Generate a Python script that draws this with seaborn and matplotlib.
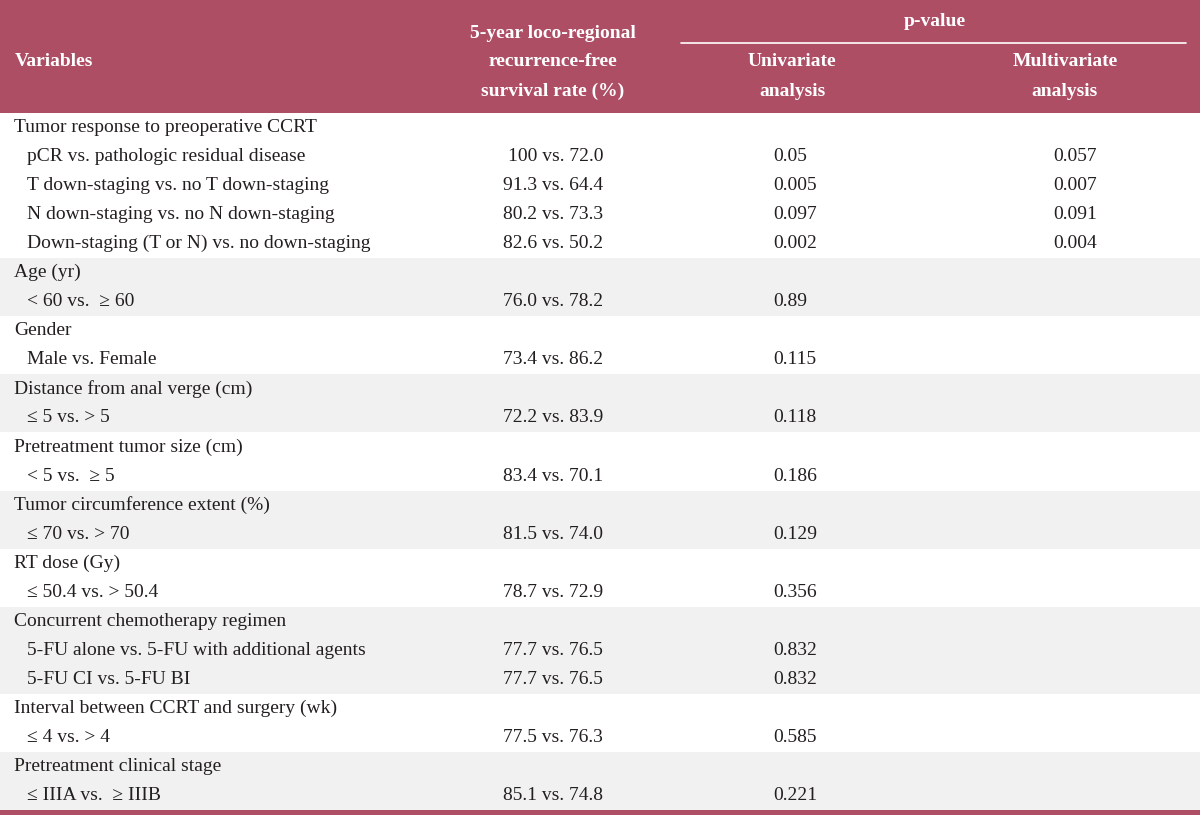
import numpy as np
import matplotlib.pyplot as plt
import seaborn as sns

# 表格数据
row_labels = [
    "Tumor response to preoperative CCRT",
    "pCR vs. pathologic residual disease",
    "T down-staging vs. no T down-staging",
    "N down-staging vs. no N down-staging",
    "Down-staging (T or N) vs. no down-staging",
    "Age (yr)",
    "< 60 vs.  \u2265 60",
    "Gender",
    "Male vs. Female",
    "Distance from anal verge (cm)",
    "\u2264 5 vs. > 5",
    "Pretreatment tumor size (cm)",
    "< 5 vs.  \u2265 5",
    "Tumor circumference extent (%)",
    "\u2264 70 vs. > 70",
    "RT dose (Gy)",
    "\u2264 50.4 vs. > 50.4",
    "Concurrent chemotherapy regimen",
    "5-FU alone vs. 5-FU with additional agents",
    "5-FU CI vs. 5-FU BI",
    "Interval between CCRT and surgery (wk)",
    "\u2264 4 vs. > 4",
    "Pretreatment clinical stage",
    "\u2264 IIIA vs.  \u2265 IIIB",
]
row_level = [0, 1, 1, 1, 1, 0, 1, 0, 1, 0, 1, 0, 1, 0, 1, 0, 1, 0, 1, 1, 0, 1, 0, 1]
row_group = [0, 0, 0, 0, 0, 1, 1, 2, 2, 3, 3, 4, 4, 5, 5, 6, 6, 7, 7, 7, 8, 8, 9, 9]
rates = ["", "100 vs. 72.0", "91.3 vs. 64.4", "80.2 vs. 73.3", "82.6 vs. 50.2",
         "", "76.0 vs. 78.2", "", "73.4 vs. 86.2", "", "72.2 vs. 83.9",
         "", "83.4 vs. 70.1", "", "81.5 vs. 74.0", "", "78.7 vs. 72.9",
         "", "77.7 vs. 76.5", "77.7 vs. 76.5", "", "77.5 vs. 76.3", "", "85.1 vs. 74.8"]
p_uni = ["", "0.05", "0.005", "0.097", "0.002", "", "0.89", "", "0.115", "", "0.118",
         "", "0.186", "", "0.129", "", "0.356", "", "0.832", "0.832", "", "0.585", "", "0.221"]
p_multi = ["", "0.057", "0.007", "0.091", "0.004"] + [""] * 19

header_color = "#AD4E65"
band_color = "#F0F1F0"
text_color = "#231F20"

sns.set_theme(style="white")
plt.rcParams['font.family'] = ['Liberation Serif', 'DejaVu Serif']

fig = plt.figure(figsize=(12, 8.16), dpi=100)
ax = fig.add_axes([0, 0, 1, 1])
ax.set_xlim(0, 1200)
ax.set_ylim(816, 0)
ax.axis('off')

# 表头
head_h = 113
row_h = (810 - head_h) / len(row_labels)
ax.axhspan(0, head_h, color=header_color, lw=0)
hkw = dict(color='white', fontsize=14, fontweight='bold', va='center')
ax.text(15, 62, "Variables", ha='left', **hkw)
for y, s in zip([33, 62, 91], ["5-year loco-regional", "recurrence-free", "survival rate (%)"]):
    ax.text(553, y, s, ha='center', **hkw)
ax.text(935, 22, "p-value", ha='center', **hkw)
ax.plot([681, 1186], [43, 43], color='white', lw=1.2)
for y, s in zip([62, 91], ["Univariate", "analysis"]):
    ax.text(792, y, s, ha='center', **hkw)
for y, s in zip([62, 91], ["Multivariate", "analysis"]):
    ax.text(1065, y, s, ha='center', **hkw)

# 交替底色
for i, g in enumerate(row_group):
    y0 = head_h + i * row_h
    if g % 2 == 1:
        ax.axhspan(y0, y0 + row_h, color=band_color, lw=0)

bkw = dict(color=text_color, fontsize=14, va='center')
for i in range(len(row_labels)):
    yc = head_h + (i + 0.5) * row_h
    ax.text(14 + 13 * row_level[i], yc, row_labels[i], ha='left', **bkw)
    ax.text(603, yc, rates[i], ha='right', **bkw)
    ax.text(773, yc, p_uni[i], ha='left', **bkw)
    ax.text(1053, yc, p_multi[i], ha='left', **bkw)

ax.axhspan(810, 815, color=header_color, lw=0)

fig.savefig('out.png', dpi=100)
